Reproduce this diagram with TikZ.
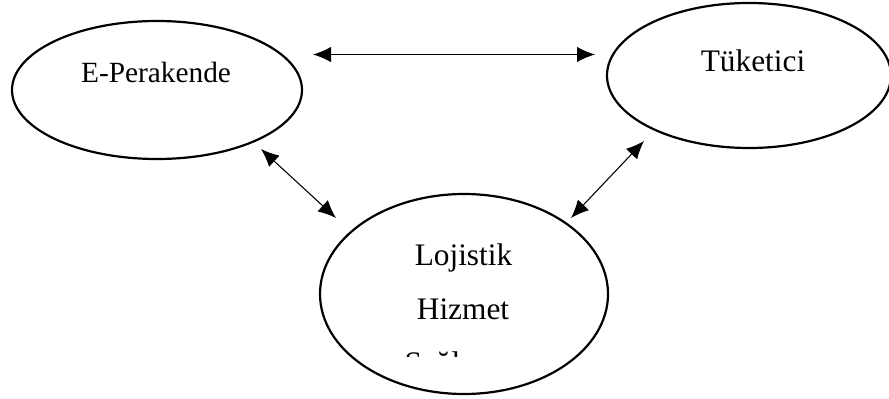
\documentclass[tikz,border=0pt]{standalone}
\usepackage{fontspec}
\setmainfont{Liberation Serif}
\usetikzlibrary{shapes.geometric,arrows.meta}

\tikzset{
  bubble/.style={ellipse, draw=black, line width=1.65pt, inner sep=0pt, outer sep=0pt},
  lbl/.style={anchor=base, inner sep=0pt, font=\fontsize{23.5pt}{28pt}\selectfont},
  lblsmall/.style={lbl, font=\fontsize{22pt}{26pt}\selectfont},
  link/.style={line width=0.8pt, {Latex[length=13.5pt,width=11.5pt]}-{Latex[length=13.5pt,width=11.5pt]}}
}

\begin{document}
\begin{tikzpicture}[x=0.75pt,y=-0.75pt]
  \useasboundingbox (0,0) rectangle (889,399);
  \clip (0,0) rectangle (889,399);

  % the three parties
  \node[bubble, minimum width=217.5pt, minimum height=103.5pt] (eper) at (157,90) {};
  \node[bubble, minimum width=213pt, minimum height=108.75pt] (tuk) at (749,75.5) {};
  \node[bubble, minimum width=216pt, minimum height=150pt] (loj) at (464,294) {};

  % labels
  \node[lblsmall] (eperText) at (156,83) {E-Perakende};
  \node[lbl] (tukText) at (753,72) {Tüketici};
  \node[lbl] (lojText1) at (463.5,265) {Lojistik};
  \node[lbl] (lojText2) at (463,319) {Hizmet};
  \begin{scope}
    \clip (380,330) rectangle (560,356);
    \node[lbl] (lojText3) at (463,373) {Sağlayıcı};
  \end{scope}

  % arrow end points
  \coordinate (eTop) at (313,54.5);
  \coordinate (tTop) at (595,54.5);
  \coordinate (eLow) at (261,149);
  \coordinate (lLeft) at (336,218);
  \coordinate (tLow) at (644,141);
  \coordinate (lRight) at (571,218);

  % relations
  \draw[link] (eTop) -- (tTop);
  \draw[link] (eLow) -- (lLeft);
  \draw[link] (tLow) -- (lRight);
\end{tikzpicture}
\end{document}
